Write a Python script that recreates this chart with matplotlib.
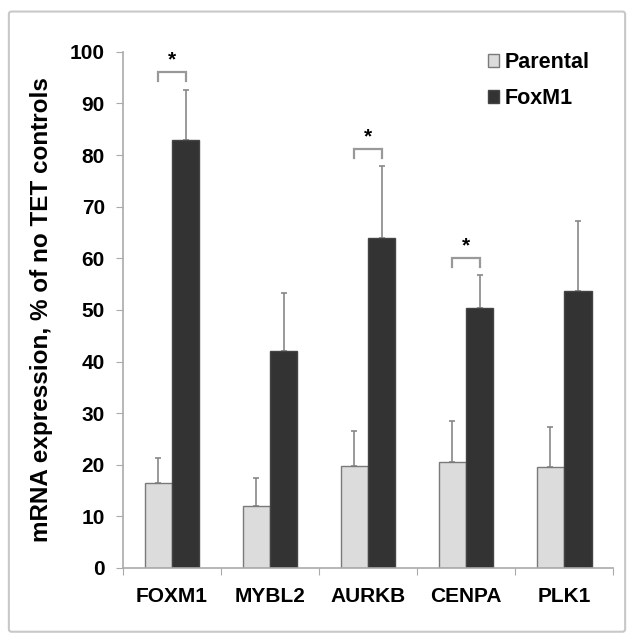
import matplotlib.pyplot as plt
import numpy as np
from matplotlib.patches import Patch, FancyBboxPatch

plt.rcParams['font.family'] = ['Liberation Sans', 'DejaVu Sans']

# data
genes = ['FOXM1', 'MYBL2', 'AURKB', 'CENPA', 'PLK1']
parental = [16.4, 12.0, 19.7, 20.5, 19.5]
parental_err = [4.9, 5.5, 6.8, 8.0, 7.9]
foxm1 = [82.9, 42.0, 63.9, 50.3, 53.7]
foxm1_err = [9.7, 11.3, 13.9, 6.4, 13.6]
# genes with a significance bracket, and bracket heights
sig_genes = ['FOXM1', 'AURKB', 'CENPA']
sig_heights = [96.0, 81.2, 60.0]

fig = plt.figure(figsize=(6.34, 6.42), dpi=100)
ax = fig.add_axes([0.194, 0.1153, 0.773, 0.804])

# grey rounded frame round the whole picture
frame = FancyBboxPatch((0.014, 0.016), 0.972, 0.966, boxstyle='round,pad=0,rounding_size=0.004',
                       transform=fig.transFigure, fill=False, edgecolor='#c8c8c8', lw=1.5)
fig.patches.append(frame)

x = np.arange(len(genes))
w = 0.28
ax.bar(x - w / 2, parental, w, color='#dcdcdc', edgecolor='#7a7a7a', lw=1, zorder=2)
ax.bar(x + w / 2, foxm1, w, color='#333333', edgecolor='#444444', lw=1, zorder=2)
# one-sided error bars
ax.errorbar(x - w / 2, parental, yerr=[np.zeros(len(x)), parental_err], fmt='none',
            ecolor='#888888', elinewidth=1.2, capsize=2.5, capthick=1.2, zorder=1)
ax.errorbar(x + w / 2, foxm1, yerr=[np.zeros(len(x)), foxm1_err], fmt='none',
            ecolor='#888888', elinewidth=1.2, capsize=2.5, capthick=1.2, zorder=1)

# significance brackets
for g, h in zip(sig_genes, sig_heights):
    i = genes.index(g)
    x0, x1 = i - w / 2, i + w / 2
    ax.plot([x0, x0, x1, x1], [h - 1.7, h, h, h - 1.7], color='#999999', lw=1.6,
            solid_joinstyle='miter', clip_on=False)
    ax.text(i, h + 0.5, '*', ha='center', va='bottom', fontsize=15, fontweight='bold')

ax.set_xlim(-0.5, len(genes) - 0.5)
ax.set_ylim(0, 100)
ax.set_yticks(np.arange(0, 101, 10))
ax.set_xticks(np.arange(-0.5, len(genes), 1.0))
ax.set_xticklabels([])
ax.set_xticks(x, minor=True)
ax.set_xticklabels(genes, minor=True, fontsize=15, fontweight='bold')
ax.tick_params(axis='x', which='minor', length=0, pad=14)
ax.tick_params(axis='x', which='major', length=5, direction='out', color='#aaaaaa')
ax.tick_params(axis='y', length=5, color='#aaaaaa', pad=8, labelsize=15)
for lab in ax.get_yticklabels():
    lab.set_fontweight('bold')

for s in ['top', 'right']:
    ax.spines[s].set_visible(False)
for s in ['left', 'bottom']:
    ax.spines[s].set_color('#aaaaaa')
    ax.spines[s].set_linewidth(1.2)

ax.set_ylabel('mRNA expression, % of no TET controls', fontsize=17.5, fontweight='bold', labelpad=12)

handles = [Patch(facecolor='#dcdcdc', edgecolor='#7a7a7a', label='Parental'),
           Patch(facecolor='#333333', edgecolor='#444444', label='FoxM1')]
leg = ax.legend(handles=handles, loc='upper left', bbox_to_anchor=(0.705, 1.037), frameon=False,
                handlelength=0.5, handleheight=0.5, handletextpad=0.3, labelspacing=0.7,
                prop={'size': 15.5, 'weight': 'bold'})

fig.savefig('out.png', dpi=100)
